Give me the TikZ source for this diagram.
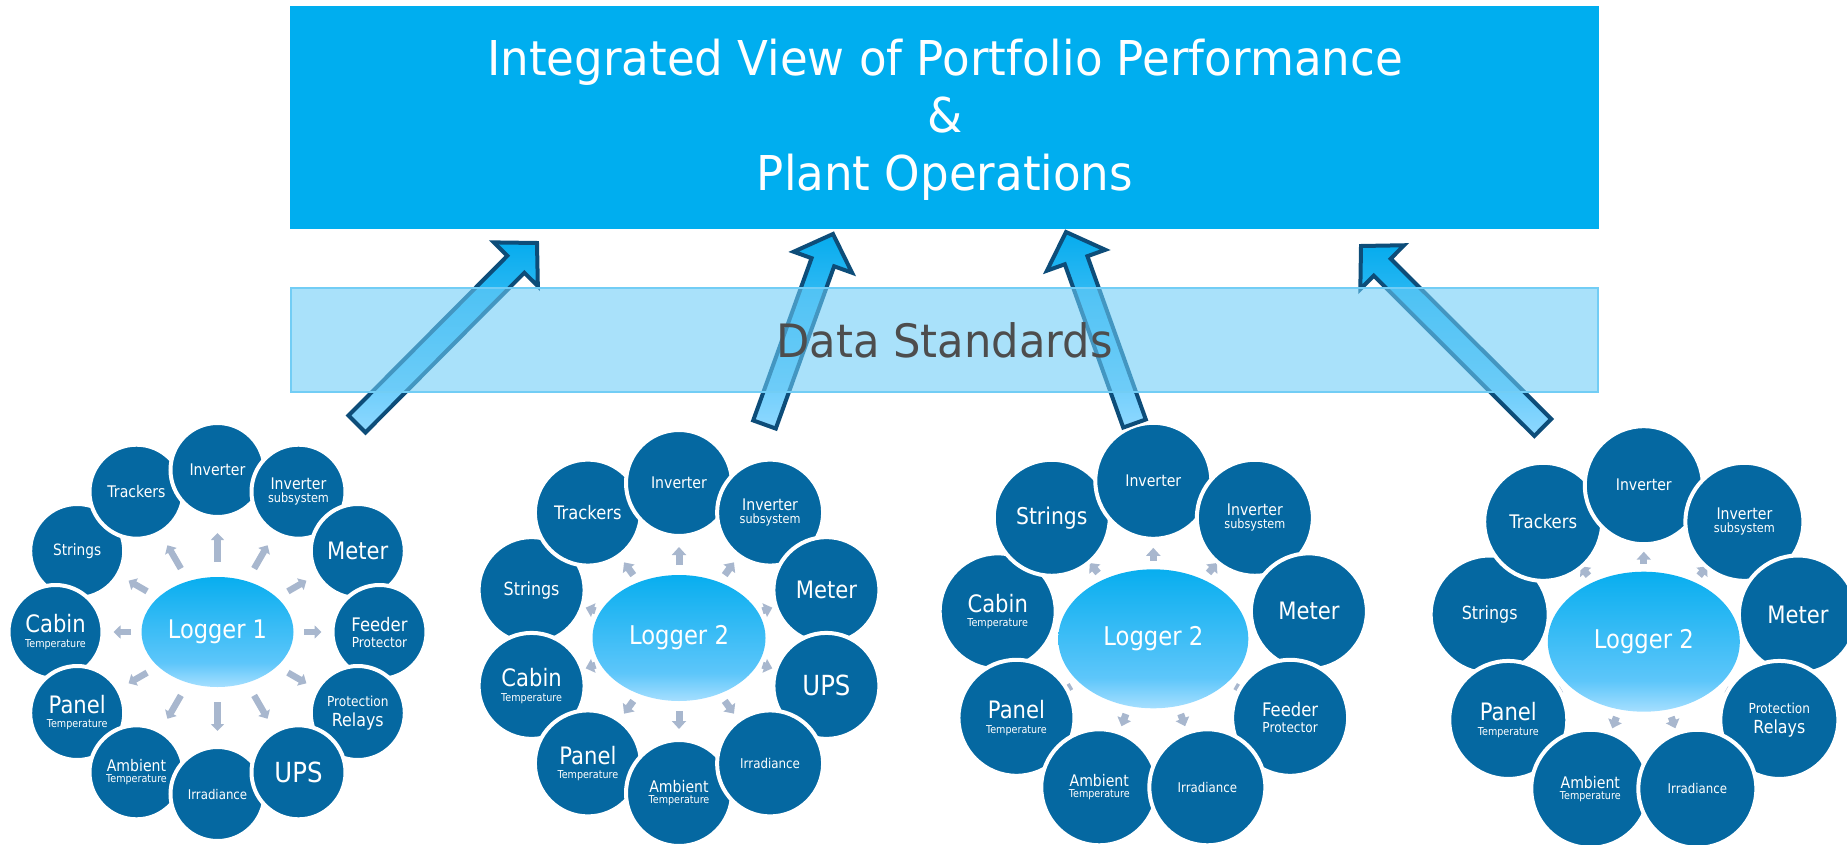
\documentclass[tikz,border=0pt]{standalone}
\usepackage{fontspec}
\setmainfont[FakeStretch=0.88]{DejaVu Sans}
\newfontfamily\titlefont[FakeStretch=0.94]{DejaVu Sans}
\usetikzlibrary{shapes.geometric,calc,arrows.meta}
\pgfdeclarelayer{bg}
\pgfsetlayers{bg,main}
\definecolor{topblue}{HTML}{00AEEF}
\definecolor{datafill}{HTML}{6BCBF6}
\definecolor{databorder}{HTML}{72CDF5}
\definecolor{circblue}{HTML}{0568A1}
\definecolor{sarrow}{HTML}{A8B7CE}
\definecolor{bigout}{HTML}{0D4D79}
\definecolor{bighead}{HTML}{06ACEE}
\definecolor{bigtail}{HTML}{8ED8FF}
\definecolor{lgtop}{HTML}{08AEEF}
\definecolor{lgmid}{HTML}{5DC6FA}
\definecolor{lgbot}{HTML}{A6DFFF}
\definecolor{dstext}{HTML}{4D4D4D}
\pgfdeclareverticalshading{loggershade}{100bp}{color(0bp)=(lgbot); color(25bp)=(lgbot); color(36bp)=(lgmid); color(75bp)=(lgtop); color(100bp)=(lgtop)}
\newcommand\Tone[2]{\fontsize{#2}{#2}\selectfont #1}
\newcommand\Ttwo[4]{{\fontsize{#2}{#2}\selectfont #1}\\{\fontsize{#4}{#4}\selectfont #3}}
\tikzset{
  k1/.style={circle, fill=circblue, draw=white, line width=4pt, minimum size=94pt, inner sep=0pt, text=white, align=center},
  k2/.style={k1, minimum size=106pt},
  k3/.style={k1, minimum size=116pt},
  k4/.style={k1, minimum size=118pt},
  k1arr/.style={draw=sarrow, line width=6.5pt, -{Triangle[width=13pt,length=7pt]}},
  k2arr/.style={draw=sarrow, line width=7pt, -{Triangle[width=14pt,length=8pt]}},
  k3arr/.style={k2arr},
  k4arr/.style={k2arr},
  logger/.style={ellipse, shading=loggershade, inner sep=0pt, text=white},
  bigarr/.style={draw=bigout, line width=4pt, line join=miter, top color=bighead, bottom color=bigtail},
  topbox/.style={rectangle, fill=topblue, minimum width=1309pt, minimum height=223pt, inner sep=0pt},
  databox/.style={rectangle, fill=datafill, fill opacity=0.58, draw=databorder, line width=2pt, minimum width=1307pt, minimum height=104pt, inner sep=0pt},
  titletxt/.style={text=white, inner sep=0pt, font=\titlefont\fontsize{48}{48}\selectfont},
  dstxt/.style={text=dstext, inner sep=0pt, font=\titlefont\fontsize{46}{46}\selectfont}
}
% #1 prefix, #2 logger, #3 radius, #4 style, #5-#6 arrow start ellipse, #7-#8 arrow end ellipse, #9 list
\newcommand\drawcluster[9]{%
  \foreach \a/\id/\txt/\g in {#9}{%
    \node[#4, font=\fontsize{10}{\g}\selectfont] (#1\id) at ($(#2)+(\a:#3pt)$) {\txt};
    \pgfmathsetmacro\sdist{#5*#6/sqrt((#6*cos(\a))^2+(#5*sin(\a))^2)}%
    \pgfmathsetmacro\edist{#7*#8/sqrt((#8*cos(\a))^2+(#7*sin(\a))^2)}%
    \begin{pgfonlayer}{bg}
      \draw[#4arr] ($(#2)!\sdist pt!(#1\id)$) -- ($(#2)!\edist pt!(#1\id)$);
    \end{pgfonlayer}
  }%
}
\newcommand\bigarrow[2]{%
  \coordinate (#1hb) at ($(#2)!30pt!(#1)$);
  \draw[bigarr] ($(#1)!12pt!90:(#2)$) -- ($(#1hb)!12pt!90:(#2)$) -- ($(#1hb)!31pt!90:(#2)$) -- (#2)
    -- ($(#1hb)!31pt!-90:(#2)$) -- ($(#1hb)!12pt!-90:(#2)$) -- ($(#1)!12pt!-90:(#2)$) -- cycle;
}
\begin{document}
\begin{tikzpicture}[x=1pt,y=-1pt]
\useasboundingbox (0,0) rectangle (1847,845);
\clip (0,0) rectangle (1847,845);
% top box
\node[topbox] (T) at (944.5,117.5) {};
\node[titletxt, anchor=base] (T1) at (945,76) {Integrated View of Portfolio Performance};
\node[titletxt, anchor=base] (T2) at (945,133) {\&};
\node[titletxt, anchor=base] (T3) at (945,191) {Plant Operations};
% loggers
\node[logger, minimum width=152pt, minimum height=110pt, font=\fontsize{25.6}{26}\selectfont] (L1) at (217.5,632) {Logger 1};
\node[logger, minimum width=173pt, minimum height=126pt, font=\fontsize{25.8}{26}\selectfont] (L2) at (679,638) {Logger 2};
\node[logger, minimum width=190pt, minimum height=139pt, font=\fontsize{25.8}{26}\selectfont] (L3) at (1153.3,638.8) {Logger 2};
\node[logger, minimum width=192pt, minimum height=140pt, font=\fontsize{25.8}{26}\selectfont] (L4) at (1643.8,641.7) {Logger 2};
% cluster 1
\drawcluster{c1}{L1}{162}{k1}{86.5}{70}{104}{99}{%
  150/str/\Tone{Strings}{15.6}/10,
  120/trk/\Tone{Trackers}{16}/10,
  90/inv/\Tone{Inverter}{16}/10,
  60/isub/\Ttwo{Inverter}{16}{subsystem}{12.8}/13.3,
  30/met/\Tone{Meter}{24}/10,
  0/fdr/\Ttwo{Feeder}{18.7}{Protector}{13.8}/16,
  -30/prt/\Ttwo{Protection}{13.8}{Relays}{18}/20,
  180/cab/\Ttwo{Cabin}{24}{Temperature}{10.9}/14.4,
  210/pan/\Ttwo{Panel}{24}{Temperature}{10.9}/14,
  240/amb/\Ttwo{Ambient}{16}{Temperature}{10.9}/11,
  270/irr/\Tone{Irradiance}{13.4}/10,
  300/ups/\Tone{UPS}{27.7}/10}
% cluster 2
\drawcluster{c2}{L2}{155}{k2}{90}{73}{99}{91}{%
  162/str/\Tone{Strings}{18.1}/10,
  126/trk/\Tone{Trackers}{18.6}/10,
  90/inv/\Tone{Inverter}{16}/10,
  54/isub/\Ttwo{Inverter}{16}{subsystem}{12.8}/13.3,
  18/met/\Tone{Meter}{24}/10,
  -18/ups/\Tone{UPS}{27.7}/10,
  198/cab/\Ttwo{Cabin}{24}{Temperature}{10.9}/14.4,
  234/pan/\Ttwo{Panel}{24}{Temperature}{10.9}/14,
  270/amb/\Ttwo{Ambient}{16}{Temperature}{10.9}/11,
  306/irr/\Tone{Irradiance}{13.5}/10}
% cluster 3
\drawcluster{c3}{L3}{158}{k3}{103}{78}{115}{91}{%
  170/cab/\Ttwo{Cabin}{24}{Temperature}{10.9}/14.4,
  130/str/\Tone{Strings}{23.1}/10,
  90/inv/\Tone{Inverter}{16}/10,
  50/isub/\Ttwo{Inverter}{16}{subsystem}{12.8}/13.3,
  10/met/\Tone{Meter}{24}/10,
  -30/fdr/\Ttwo{Feeder}{18.7}{Protector}{13.8}/16,
  210/pan/\Ttwo{Panel}{24}{Temperature}{10.9}/14.5,
  250/amb/\Ttwo{Ambient}{16}{Temperature}{10.9}/11,
  290/irr/\Tone{Irradiance}{13.4}/10}
% cluster 4
\drawcluster{c4}{L4}{156.5}{k4}{104}{78}{116}{90}{%
  170/str/\Tone{Strings}{18.1}/10,
  130/trk/\Tone{Trackers}{18.7}/10,
  90/inv/\Tone{Inverter}{16}/10,
  50/isub/\Ttwo{Inverter}{16}{subsystem}{12.8}/13.3,
  10/met/\Tone{Meter}{24}/10,
  -30/prt/\Ttwo{Protection}{13.8}{Relays}{18}/20,
  210/pan/\Ttwo{Panel}{24}{Temperature}{10.9}/14.5,
  250/amb/\Ttwo{Ambient}{16}{Temperature}{10.9}/11,
  290/irr/\Tone{Irradiance}{13.4}/10}
% big arrows
\coordinate (a1t) at (357,424);    \coordinate (a1h) at (537,243);
\coordinate (a2t) at (764.5,424.5); \coordinate (a2h) at (833,234);
\coordinate (a3t) at (1134.5,423.5); \coordinate (a3h) at (1066,232);
\coordinate (a4t) at (1542.8,427.5); \coordinate (a4h) at (1361,246);
\bigarrow{a1t}{a1h}
\bigarrow{a2t}{a2h}
\bigarrow{a3t}{a3h}
\bigarrow{a4t}{a4h}
% data standards band
\node[databox] (DS) at (944.5,340) {};
\node[dstxt, anchor=base] (DST) at (944.5,357) {Data Standards};
\end{tikzpicture}
\end{document}
